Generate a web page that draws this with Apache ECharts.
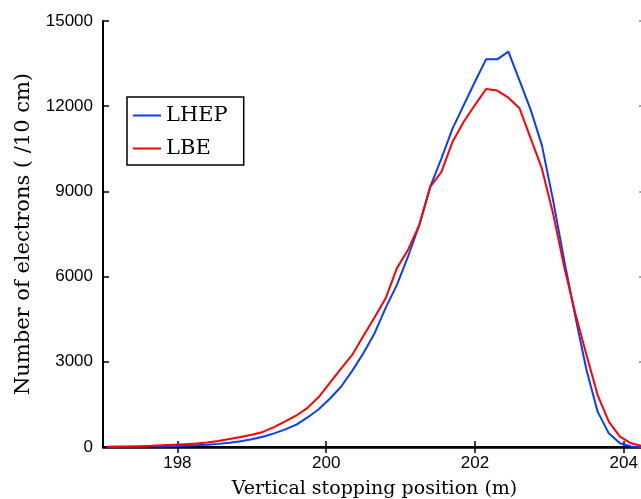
<!DOCTYPE html>
<html>
<head>
<meta charset="utf-8">
<script src="https://cdn.jsdelivr.net/npm/echarts@6/dist/echarts.min.js"></script>
<style>
html,body{margin:0;padding:0;background:#fff;}
#chart{width:641px;height:499px;}
</style>
</head>
<body>
<div id="chart"></div>
<script>
// Data
const positions = [197.05,197.20,197.35,197.50,197.65,197.80,197.95,198.10,198.25,198.40,
  198.55,198.70,198.85,199.00,199.15,199.30,199.45,199.60,199.75,199.90,
  200.05,200.20,200.35,200.50,200.65,200.80,200.95,201.10,201.25,201.40,
  201.55,201.70,201.85,202.00,202.15,202.30,202.45,202.60,202.75,202.90,
  203.05,203.20,203.35,203.50,203.65,203.80,203.95,204.10,204.25,204.40];
const lhep = [0,0,5,10,15,20,30,40,60,80,
  110,150,200,270,360,480,620,790,1040,1330,
  1700,2120,2680,3300,4000,4900,5700,6700,7800,9165,
  10165,11220,12040,12860,13650,13650,13920,12900,11870,10630,
  8700,6580,4590,2710,1245,480,130,20,5,0];
const lbe = [10,15,20,30,40,60,80,100,120,160,
  210,280,350,430,530,700,900,1110,1380,1760,
  2260,2760,3240,3910,4560,5235,6290,6940,7800,9165,
  9690,10750,11450,12040,12605,12550,12300,11925,10870,9810,
  8230,6350,4700,3240,1830,890,365,130,35,10];
const xTicks = [198, 200, 202, 204];
const yTicks = [0, 3000, 6000, 9000, 12000, 15000];
const seriesNames = ['LHEP', 'LBE'];
const xTitle = 'Vertical stopping position (m)';
const yTitle = 'Number of electrons ( /10 cm)';

const toPairs = arr => arr.map((v, i) => [positions[i], v]);
const sans = 'Liberation Sans';
const serif = 'DejaVu Serif';
const axisLine = {show: true, lineStyle: {color: '#000', width: 2}};

const chart = echarts.init(document.getElementById('chart'), null, {renderer: 'canvas'});
chart.setOption({
  animation: false,
  backgroundColor: '#fff',
  grid: {left: 103, top: 21, width: 543, height: 426, outerBoundsMode: 'none', containLabel: false},
  legend: {
    data: seriesNames,
    orient: 'vertical',
    left: 127, top: 97,
    backgroundColor: '#fff',
    borderColor: '#000', borderWidth: 1.5,
    padding: [8, 16, 6, 6],
    itemGap: 12, itemWidth: 28, itemHeight: 2,
    icon: 'rect',
    textStyle: {fontFamily: serif, fontSize: 21, color: '#000'}
  },
  xAxis: [{
    type: 'value', position: 'bottom', min: 197, max: 204.3,
    axisLine: {show: true, lineStyle: {color: '#000', width: 2.5}},
    axisTick: {show: true, inside: true, length: 6, lineStyle: {color: '#000', width: 1.5}, customValues: xTicks},
    axisLabel: {customValues: xTicks, fontFamily: sans, fontSize: 17, color: '#000', margin: 8},
    splitLine: {show: false},
    name: xTitle, nameLocation: 'middle', nameGap: 33,
    nameTextStyle: {fontFamily: serif, fontSize: 19, color: '#000'}
  }, {
    type: 'value', position: 'top', min: 197, max: 204.3,
    axisLine: axisLine,
    axisTick: {show: true, inside: true, length: 6, lineStyle: {color: '#000', width: 1.5}, customValues: xTicks},
    axisLabel: {show: false},
    splitLine: {show: false}
  }],
  yAxis: [{
    type: 'value', position: 'left', min: 0, max: 15000, interval: 3000,
    axisLine: axisLine,
    axisTick: {show: true, inside: true, length: 6, lineStyle: {color: '#000', width: 1.5}, customValues: yTicks},
    axisLabel: {customValues: yTicks, fontFamily: sans, fontSize: 17, color: '#000', margin: 10, formatter: v => String(v)},
    splitLine: {show: false},
    name: yTitle, nameLocation: 'middle', nameGap: 69, nameRotate: 90,
    nameTextStyle: {fontFamily: serif, fontSize: 21, color: '#000'}
  }, {
    type: 'value', position: 'right', min: 0, max: 15000, interval: 3000,
    axisLine: axisLine,
    axisTick: {show: true, inside: true, length: 7, lineStyle: {color: '#888', width: 1.5}},
    axisLabel: {show: false},
    splitLine: {show: false}
  }],
  series: [{
    name: seriesNames[0], type: 'line', data: toPairs(lhep),
    symbol: 'none', lineStyle: {color: '#0a3cff', width: 2}, itemStyle: {color: '#0a3cff'}, z: 3
  }, {
    name: seriesNames[1], type: 'line', data: toPairs(lbe),
    symbol: 'none', lineStyle: {color: '#ff0000', width: 2}, itemStyle: {color: '#ff0000'}, z: 4
  }]
});
</script>
</body>
</html>
